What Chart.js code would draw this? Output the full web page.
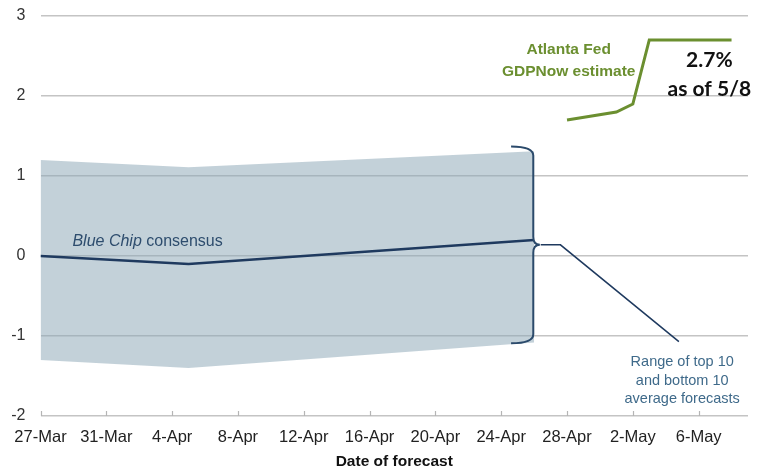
<!DOCTYPE html>
<html>
<head>
<meta charset="utf-8">
<script src="https://cdn.jsdelivr.net/npm/chart.js@4.4.1/dist/chart.umd.min.js"></script>
<style>
  html, body { margin: 0; padding: 0; background: #fff; }
  #wrap { width: 764px; height: 475px; position: relative; }
</style>
</head>
<body>
<div id="wrap"><canvas id="chart"></canvas></div>
<script>
'use strict';

// x values are days since 27-Mar
const tickLabels = ['27-Mar', '31-Mar', '4-Apr', '8-Apr', '12-Apr', '16-Apr', '20-Apr', '24-Apr', '28-Apr', '2-May', '6-May'];
const consensusDays = [0, 9, 30];
const consensusValues = [0, -0.1, 0.2];
const rangeHigh = [1.2, 1.11, 1.31];
const rangeLow = [-1.3, -1.4, -1.08];
const gdpNowDays = [32, 35, 36, 37, 42];
const gdpNowValues = [1.7, 1.8, 1.9, 2.7, 2.7];
const leaderDays = [30.4, 31.6, 38.8];
const leaderValues = [0.14, 0.14, -1.07];

const pts = (xs, ys) => xs.map((x, i) => ({ x, y: ys[i] }));

const NAVY = '#1f3a5f';
const GREEN = '#6b8f30';
const LABEL_BLUE = '#3f6a8a';

// curly bracket + text callouts
const annotationsPlugin = {
  id: 'annotations',
  afterDatasetsDraw(chart) {
    const { ctx, scales: { x, y }, chartArea } = chart;
    ctx.save();

    // small upward ticks on the bottom axis
    ctx.strokeStyle = '#b5b5b5';
    ctx.lineWidth = 1.2;
    x.ticks.forEach(t => {
      const px = Math.round(x.getPixelForValue(t.value)) + 0.5;
      ctx.beginPath();
      ctx.moveTo(px, chartArea.bottom);
      ctx.lineTo(px, chartArea.bottom - 5);
      ctx.stroke();
    });

    // bracket around the range band
    const bx0 = x.getPixelForValue(28.6);
    const bx1 = x.getPixelForValue(29.95);
    const tip = x.getPixelForValue(30.35);
    const yTop = y.getPixelForValue(1.37);
    const yMid = y.getPixelForValue(0.14);
    const yBot = y.getPixelForValue(-1.09);
    ctx.strokeStyle = '#2b4a6b';
    ctx.lineWidth = 2;
    ctx.beginPath();
    ctx.moveTo(bx0, yTop);
    ctx.quadraticCurveTo(bx1, yTop, bx1, yTop + 9);
    ctx.lineTo(bx1, yMid - 8);
    ctx.quadraticCurveTo(bx1, yMid, tip, yMid);
    ctx.quadraticCurveTo(bx1, yMid, bx1, yMid + 8);
    ctx.lineTo(bx1, yBot - 9);
    ctx.quadraticCurveTo(bx1, yBot, bx0, yBot);
    ctx.stroke();

    ctx.textBaseline = 'middle';

    // Blue Chip consensus
    ctx.fillStyle = '#2e4d6e';
    ctx.textAlign = 'left';
    const bcx = x.getPixelForValue(1.94);
    const bcy = y.getPixelForValue(0.175);
    ctx.font = 'italic 16px "Liberation Sans", Arial, sans-serif';
    ctx.fillText('Blue Chip', bcx, bcy);
    const w = ctx.measureText('Blue Chip ').width;
    ctx.font = '16px "Liberation Sans", Arial, sans-serif';
    ctx.fillText('consensus', bcx + w, bcy);

    // Atlanta Fed label
    ctx.textAlign = 'center';
    ctx.fillStyle = GREEN;
    ctx.font = 'bold 15.5px "Liberation Sans", Arial, sans-serif';
    ctx.fillText('Atlanta Fed', x.getPixelForValue(32.1), y.getPixelForValue(2.575));
    ctx.fillText('GDPNow estimate', x.getPixelForValue(32.1), y.getPixelForValue(2.3));

    // latest value
    ctx.fillStyle = '#111';
    ctx.font = 'bold 21px Lato, "Open Sans", sans-serif';
    ctx.fillText('2.7%', x.getPixelForValue(40.65), y.getPixelForValue(2.45));
    ctx.fillText('as of 5/8', x.getPixelForValue(40.65), y.getPixelForValue(2.09));

    // range label
    ctx.fillStyle = LABEL_BLUE;
    ctx.font = '14.5px "Liberation Sans", Arial, sans-serif';
    const rx = x.getPixelForValue(39.0);
    ctx.fillText('Range of top 10', rx, y.getPixelForValue(-1.325));
    ctx.fillText('and bottom 10', rx, y.getPixelForValue(-1.56));
    ctx.fillText('average forecasts', rx, y.getPixelForValue(-1.79));

    ctx.restore();
  }
};

new Chart(document.getElementById('chart'), {
  type: 'line',
  data: {
    datasets: [
      {
        label: 'High',
        data: pts(consensusDays, rangeHigh),
        borderWidth: 0,
        pointRadius: 0,
        fill: false,
        order: 5
      },
      {
        label: 'Low',
        data: pts(consensusDays, rangeLow),
        borderWidth: 0,
        pointRadius: 0,
        fill: '-1',
        backgroundColor: 'rgba(140,166,182,0.52)',
        order: 4
      },
      {
        label: 'Blue Chip consensus',
        data: pts(consensusDays, consensusValues),
        borderColor: NAVY,
        borderWidth: 2.5,
        pointRadius: 0,
        fill: false,
        order: 1
      },
      {
        label: 'GDPNow',
        data: pts(gdpNowDays, gdpNowValues),
        borderColor: GREEN,
        borderWidth: 3,
        pointRadius: 0,
        fill: false,
        order: 0
      },
      {
        label: 'Leader',
        data: pts(leaderDays, leaderValues),
        borderColor: NAVY,
        borderWidth: 1.5,
        pointRadius: 0,
        fill: false,
        order: 2
      }
    ]
  },
  options: {
    responsive: true,
    maintainAspectRatio: false,
    animation: false,
    layout: { padding: { top: 16, right: 16, bottom: 0, left: 0 } },
    plugins: {
      legend: { display: false },
      tooltip: { enabled: false }
    },
    scales: {
      x: {
        type: 'linear',
        min: 0,
        max: 43,
        afterFit: scale => { scale.height = 59; },
        grid: { display: false, drawTicks: false },
        border: { display: false },
        ticks: {
          stepSize: 4,
          includeBounds: false,
          maxRotation: 0,
          autoSkip: false,
          padding: 12,
          color: '#222',
          font: { family: '"Liberation Sans Narrow", "Arial Narrow", "Liberation Sans", sans-serif', size: 16.5 },
          callback: v => tickLabels[v / 4] ?? ''
        },
        title: {
          display: true,
          text: 'Date of forecast',
          color: '#111',
          padding: { top: 4, bottom: 4 },
          font: { family: '"Liberation Sans", Arial, sans-serif', size: 15.5, weight: 'bold' }
        }
      },
      y: {
        min: -2,
        max: 3,
        afterFit: scale => {
          scale.width = 40.5;
          scale.paddingTop = 0;
          scale.paddingBottom = 0;
        },
        grid: { color: '#c4c4c4', lineWidth: 1.5, drawTicks: false },
        border: { display: false },
        ticks: {
          stepSize: 1,
          padding: 15,
          color: '#333',
          font: { family: '"Liberation Sans", Arial, sans-serif', size: 16 }
        }
      }
    }
  },
  plugins: [annotationsPlugin]
});
</script>
</body>
</html>
